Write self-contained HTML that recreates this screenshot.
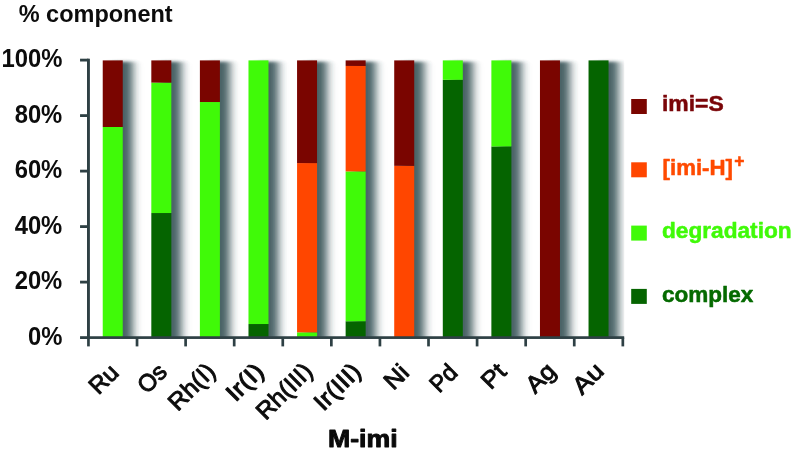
<!DOCTYPE html>
<html lang="en"><head><meta charset="utf-8"><title>% component chart</title>
<style>
html,body{margin:0;padding:0;background:#fff;}
body{width:799px;height:451px;overflow:hidden;}
svg{display:block;}
text{font-family:"Liberation Sans",sans-serif;font-weight:bold;}
.cal{fill:#0c0c0c;}
</style></head><body>
<svg width="799" height="451" viewBox="0 0 799 451">
<defs>
<filter id="sh" x="-100%" y="-5%" width="300%" height="110%"><feGaussianBlur stdDeviation="4.0 1.8"/></filter>
<filter id="sh2" x="-100%" y="-10%" width="300%" height="120%"><feGaussianBlur stdDeviation="5.5 2.6"/></filter>
<clipPath id="plot"><rect x="88.45" y="40" width="535.78" height="298.60"/></clipPath>
</defs>
<rect width="799" height="451" fill="#ffffff"/>

<g clip-path="url(#plot)">
<g filter="url(#sh2)" fill="#2e4b4f" opacity="0.16">
<rect x="114.74" y="63.10" width="20.00" height="307.50"/>
<rect x="163.32" y="63.10" width="20.00" height="307.50"/>
<rect x="211.90" y="63.10" width="20.00" height="307.50"/>
<rect x="260.48" y="63.10" width="20.00" height="307.50"/>
<rect x="309.06" y="63.10" width="20.00" height="307.50"/>
<rect x="357.64" y="63.10" width="20.00" height="307.50"/>
<rect x="406.22" y="63.10" width="20.00" height="307.50"/>
<rect x="454.80" y="63.10" width="20.00" height="307.50"/>
<rect x="503.38" y="63.10" width="20.00" height="307.50"/>
<rect x="551.96" y="63.10" width="20.00" height="307.50"/>
<rect x="600.54" y="63.10" width="20.00" height="307.50"/>
</g>
<g filter="url(#sh)" fill="#2e4b4f" opacity="0.86">
<rect x="112.04" y="61.70" width="20.00" height="297.50"/>
<rect x="160.62" y="61.70" width="20.00" height="297.50"/>
<rect x="209.20" y="61.70" width="20.00" height="297.50"/>
<rect x="257.78" y="61.70" width="20.00" height="297.50"/>
<rect x="306.36" y="61.70" width="20.00" height="297.50"/>
<rect x="354.94" y="61.70" width="20.00" height="297.50"/>
<rect x="403.52" y="61.70" width="20.00" height="297.50"/>
<rect x="452.10" y="61.70" width="20.00" height="297.50"/>
<rect x="500.68" y="61.70" width="20.00" height="297.50"/>
<rect x="549.26" y="61.70" width="20.00" height="297.50"/>
<rect x="597.84" y="61.70" width="20.00" height="297.50"/>
</g></g>
<rect x="102.74" y="127.00" width="20.00" height="210.90" fill="#40fa08"/>
<rect x="102.74" y="60.40" width="20.00" height="66.60" fill="#7a0500"/>
<rect x="151.32" y="213.03" width="20.00" height="124.88" fill="#056400"/>
<rect x="151.32" y="82.60" width="20.00" height="130.43" fill="#40fa08"/>
<rect x="151.32" y="60.40" width="20.00" height="22.20" fill="#7a0500"/>
<rect x="199.90" y="102.03" width="20.00" height="235.88" fill="#40fa08"/>
<rect x="199.90" y="60.40" width="20.00" height="41.62" fill="#7a0500"/>
<rect x="248.48" y="324.03" width="20.00" height="13.88" fill="#056400"/>
<rect x="248.48" y="60.40" width="20.00" height="263.62" fill="#40fa08"/>
<rect x="297.06" y="332.35" width="20.00" height="5.55" fill="#40fa08"/>
<rect x="297.06" y="163.08" width="20.00" height="169.27" fill="#ff4600"/>
<rect x="297.06" y="60.40" width="20.00" height="102.68" fill="#7a0500"/>
<rect x="345.64" y="321.25" width="20.00" height="16.65" fill="#056400"/>
<rect x="345.64" y="171.40" width="20.00" height="149.85" fill="#40fa08"/>
<rect x="345.64" y="65.95" width="20.00" height="105.45" fill="#ff4600"/>
<rect x="345.64" y="60.40" width="20.00" height="5.55" fill="#7a0500"/>
<rect x="394.22" y="165.85" width="20.00" height="172.05" fill="#ff4600"/>
<rect x="394.22" y="60.40" width="20.00" height="105.45" fill="#7a0500"/>
<rect x="442.80" y="79.83" width="20.00" height="258.07" fill="#056400"/>
<rect x="442.80" y="60.40" width="20.00" height="19.43" fill="#40fa08"/>
<rect x="491.38" y="146.43" width="20.00" height="191.47" fill="#056400"/>
<rect x="491.38" y="60.40" width="20.00" height="86.03" fill="#40fa08"/>
<rect x="539.96" y="60.40" width="20.00" height="277.50" fill="#7a0500"/>
<rect x="588.54" y="60.40" width="20.00" height="277.50" fill="#056400"/>
<g fill="#2e4044">
<rect x="87.00" y="58.70" width="2.9" height="280.30"/>
<rect x="87.00" y="336.25" width="537.18" height="2.7"/>
<rect x="80.05" y="336.20" width="8.4" height="2.8"/>
<rect x="80.05" y="280.70" width="8.4" height="2.8"/>
<rect x="80.05" y="225.20" width="8.4" height="2.8"/>
<rect x="80.05" y="169.70" width="8.4" height="2.8"/>
<rect x="80.05" y="114.20" width="8.4" height="2.8"/>
<rect x="80.05" y="58.70" width="8.4" height="2.8"/>
<rect x="87.10" y="337.60" width="2.7" height="8.8"/>
<rect x="135.68" y="337.60" width="2.7" height="8.8"/>
<rect x="184.26" y="337.60" width="2.7" height="8.8"/>
<rect x="232.84" y="337.60" width="2.7" height="8.8"/>
<rect x="281.42" y="337.60" width="2.7" height="8.8"/>
<rect x="330.00" y="337.60" width="2.7" height="8.8"/>
<rect x="378.58" y="337.60" width="2.7" height="8.8"/>
<rect x="427.16" y="337.60" width="2.7" height="8.8"/>
<rect x="475.74" y="337.60" width="2.7" height="8.8"/>
<rect x="524.32" y="337.60" width="2.7" height="8.8"/>
<rect x="572.90" y="337.60" width="2.7" height="8.8"/>
<rect x="621.48" y="337.60" width="2.7" height="8.8"/>
</g>
<text class="cal" x="62.3" y="344.60" text-anchor="end" font-size="25.7" transform="translate(62.4 0) scale(0.927 1) translate(-62.4 0)">0%</text>
<text class="cal" x="62.3" y="289.10" text-anchor="end" font-size="25.7" transform="translate(62.4 0) scale(0.927 1) translate(-62.4 0)">20%</text>
<text class="cal" x="62.3" y="233.60" text-anchor="end" font-size="25.7" transform="translate(62.4 0) scale(0.927 1) translate(-62.4 0)">40%</text>
<text class="cal" x="62.3" y="178.10" text-anchor="end" font-size="25.7" transform="translate(62.4 0) scale(0.927 1) translate(-62.4 0)">60%</text>
<text class="cal" x="62.3" y="122.60" text-anchor="end" font-size="25.7" transform="translate(62.4 0) scale(0.927 1) translate(-62.4 0)">80%</text>
<text class="cal" x="62.3" y="67.10" text-anchor="end" font-size="25.7" transform="translate(62.4 0) scale(0.927 1) translate(-62.4 0)">100%</text>
<text class="cal" x="18.7" y="21.6" font-size="24.6" textLength="154" lengthAdjust="spacingAndGlyphs">% component</text>
<text class="cal" font-size="24" style="font-weight:normal;stroke:#0c0c0c;stroke-width:0.95px;stroke-linejoin:round" text-anchor="end" textLength="30.5" lengthAdjust="spacingAndGlyphs" transform="translate(109.54 363.40) rotate(-45)" x="0" y="15">Ru</text>
<text class="cal" font-size="24" style="font-weight:normal;stroke:#0c0c0c;stroke-width:0.95px;stroke-linejoin:round" text-anchor="end" textLength="30.2" lengthAdjust="spacingAndGlyphs" transform="translate(157.82 362.90) rotate(-45)" x="0" y="15">Os</text>
<text class="cal" font-size="24" style="font-weight:normal;stroke:#0c0c0c;stroke-width:0.95px;stroke-linejoin:round" text-anchor="end" textLength="55.3" lengthAdjust="spacingAndGlyphs" transform="translate(206.20 362.20) rotate(-45)" x="0" y="15">Rh(I)</text>
<text class="cal" font-size="24" style="font-weight:normal;stroke:#0c0c0c;stroke-width:0.95px;stroke-linejoin:round" text-anchor="end" textLength="42.4" lengthAdjust="spacingAndGlyphs" transform="translate(254.78 362.20) rotate(-45)" x="0" y="15">Ir(I)</text>
<text class="cal" font-size="24" style="font-weight:normal;stroke:#0c0c0c;stroke-width:0.95px;stroke-linejoin:round" text-anchor="end" textLength="68.2" lengthAdjust="spacingAndGlyphs" transform="translate(303.36 362.20) rotate(-45)" x="0" y="15">Rh(III)</text>
<text class="cal" font-size="24" style="font-weight:normal;stroke:#0c0c0c;stroke-width:0.95px;stroke-linejoin:round" text-anchor="end" textLength="55.3" lengthAdjust="spacingAndGlyphs" transform="translate(351.94 362.20) rotate(-45)" x="0" y="15">Ir(III)</text>
<text class="cal" font-size="24" style="font-weight:normal;stroke:#0c0c0c;stroke-width:0.95px;stroke-linejoin:round" text-anchor="end" textLength="23.9" lengthAdjust="spacingAndGlyphs" transform="translate(399.82 363.40) rotate(-45)" x="0" y="15">Ni</text>
<text class="cal" font-size="24" style="font-weight:normal;stroke:#0c0c0c;stroke-width:0.95px;stroke-linejoin:round" text-anchor="end" textLength="27.9" lengthAdjust="spacingAndGlyphs" transform="translate(448.30 363.40) rotate(-45)" x="0" y="15">Pd</text>
<text class="cal" font-size="24" style="font-weight:normal;stroke:#0c0c0c;stroke-width:0.95px;stroke-linejoin:round" text-anchor="end" textLength="24.2" lengthAdjust="spacingAndGlyphs" transform="translate(497.18 362.70) rotate(-45)" x="0" y="15">Pt</text>
<text class="cal" font-size="24" style="font-weight:normal;stroke:#0c0c0c;stroke-width:0.95px;stroke-linejoin:round" text-anchor="end" textLength="31.0" lengthAdjust="spacingAndGlyphs" transform="translate(546.66 361.90) rotate(-45)" x="0" y="15">Ag</text>
<text class="cal" font-size="24" style="font-weight:normal;stroke:#0c0c0c;stroke-width:0.95px;stroke-linejoin:round" text-anchor="end" textLength="32.8" lengthAdjust="spacingAndGlyphs" transform="translate(594.64 361.90) rotate(-45)" x="0" y="15">Au</text>
<text x="328.0" y="446.9" font-size="23.6" fill="#0a0a0a" stroke="#0a0a0a" stroke-width="0.9" stroke-linejoin="round" textLength="69.6" lengthAdjust="spacingAndGlyphs">M-imi</text>
<rect x="631.2" y="99.00" width="15.6" height="15" fill="#7a0500"/>
<text x="662.0" y="111.40" font-size="22.6" fill="#7a0508" stroke="#7a0508" stroke-width="0.5" stroke-linejoin="round" textLength="61.8" lengthAdjust="spacingAndGlyphs">imi=S</text>
<rect x="631.2" y="162.30" width="15.6" height="15" fill="#ff4600"/>
<text x="662.6" y="175.45" font-size="22.6" fill="#ff4a00" stroke="#ff4a00" stroke-width="0.5" stroke-linejoin="round" textLength="70.4" lengthAdjust="spacingAndGlyphs">[imi-H]</text>
<text x="734.2" y="166.85" font-size="17.5" fill="#ff4a00" stroke="#ff4a00" stroke-width="0.5" stroke-linejoin="round">+</text>
<rect x="631.2" y="225.60" width="15.6" height="15" fill="#40fa08"/>
<text x="662.0" y="238.30" font-size="22.6" fill="#40fa08" stroke="#40fa08" stroke-width="0.5" stroke-linejoin="round" textLength="129.6" lengthAdjust="spacingAndGlyphs">degradation</text>
<rect x="631.2" y="288.90" width="15.6" height="15" fill="#056400"/>
<text x="662.0" y="301.75" font-size="22.6" fill="#056a00" stroke="#056a00" stroke-width="0.5" stroke-linejoin="round" textLength="91.4" lengthAdjust="spacingAndGlyphs">complex</text>
</svg></body></html>
